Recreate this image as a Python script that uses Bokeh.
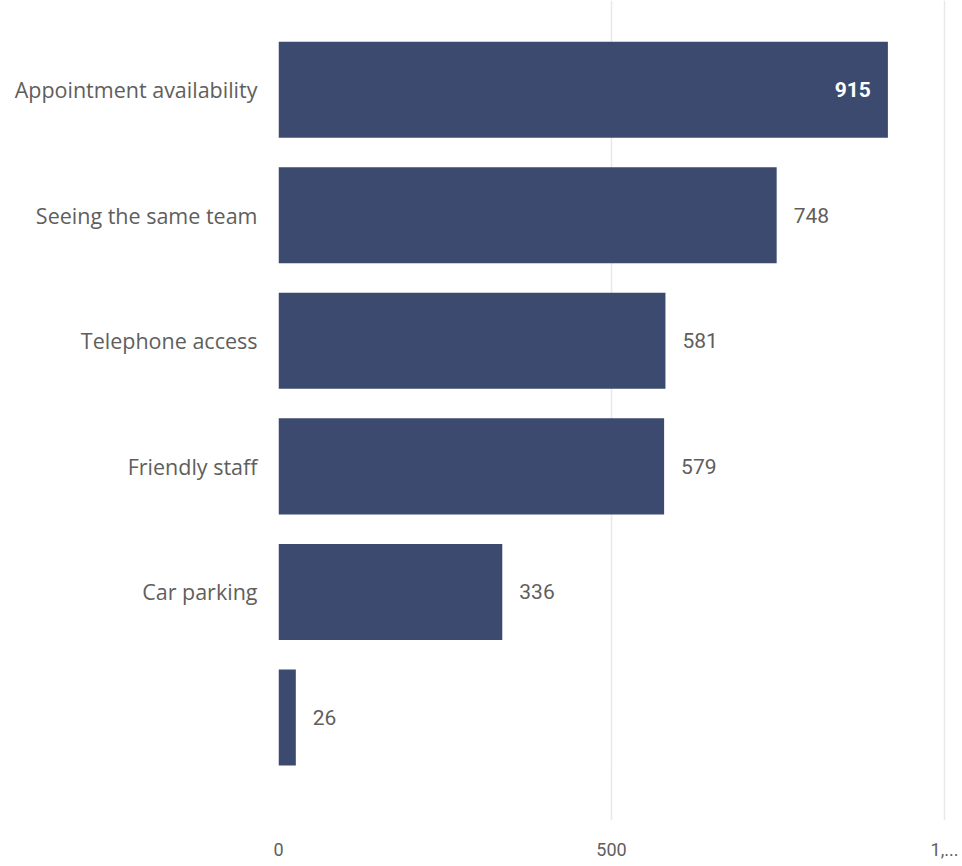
from bokeh.plotting import figure
from bokeh.models import ColumnDataSource, Range1d, FixedTicker
from bokeh.core.properties import value
from bokeh.embed import file_html
from bokeh.resources import INLINE

categories = ["Appointment availability", "Seeing the same team", "Telephone access",
              "Friendly staff", "Car parking", ""]
counts = [915, 748, 581, 579, 336, 26]
x_ticks = [0, 500, 1000]
x_tick_labels = ["0", "500", "1,..."]

BAR = "#3B4A6E"
TXT = "#605E5C"

pos = list(range(len(categories)))
src = ColumnDataSource(dict(y=pos, v=counts, lab=[str(c) for c in counts]))

p = figure(width=962, height=866, output_backend="svg", toolbar_location=None,
           x_range=Range1d(0, 1012), y_range=Range1d(5.82, -0.71),
           min_border_left=278, min_border_right=10, min_border_top=0,
           min_border_bottom=46)
p.outline_line_color = None
p.background_fill_color = "white"
p.border_fill_color = "white"

p.hbar(y="y", right="v", left=0, height=0.765, source=src, color=BAR,
       line_color=None)

vmax = max(counts)
inside = [i for i, c in enumerate(counts) if c == vmax]
outside = [i for i, c in enumerate(counts) if c != vmax]
src_in = ColumnDataSource(dict(y=[pos[i] for i in inside], v=[counts[i] for i in inside],
                               lab=[str(counts[i]) for i in inside]))
src_out = ColumnDataSource(dict(y=[pos[i] for i in outside], v=[counts[i] for i in outside],
                                lab=[str(counts[i]) for i in outside]))
p.text(x="v", y="y", text="lab", source=src_in, x_offset=-17, text_align="right",
       text_baseline="middle", text_color="white", text_font=value("Roboto"),
       text_font_size="21px", text_font_style="bold")
p.text(x="v", y="y", text="lab", source=src_out, x_offset=17, text_align="left",
       text_baseline="middle", text_color=TXT, text_font=value("Roboto"),
       text_font_size="21px")

# x axis
p.xaxis.ticker = FixedTicker(ticks=x_ticks)
p.xaxis.major_label_overrides = {t: l for t, l in zip(x_ticks, x_tick_labels)}
p.xaxis.axis_line_color = None
p.xaxis.major_tick_line_color = None
p.xaxis.minor_tick_line_color = None
p.xaxis.major_label_text_color = TXT
p.xaxis.major_label_text_font = "Roboto"
p.xaxis.major_label_text_font_size = "18px"
p.xaxis.major_label_standoff = 16
p.xgrid.grid_line_color = "#E8E8E8"
p.xgrid.grid_line_width = 1.5
p.xgrid.ticker = FixedTicker(ticks=x_ticks)

# y axis
p.yaxis.ticker = FixedTicker(ticks=pos)
p.yaxis.major_label_overrides = {i: c for i, c in zip(pos, categories)}
p.yaxis.axis_line_color = None
p.yaxis.major_tick_line_color = None
p.yaxis.minor_tick_line_color = None
p.yaxis.major_label_text_color = TXT
p.yaxis.major_label_text_font = "Open Sans"
p.yaxis.major_label_text_font_size = "21.5px"
p.yaxis.major_label_standoff = 15
p.ygrid.grid_line_color = None

open("out.html", "w").write(file_html(p, INLINE))
